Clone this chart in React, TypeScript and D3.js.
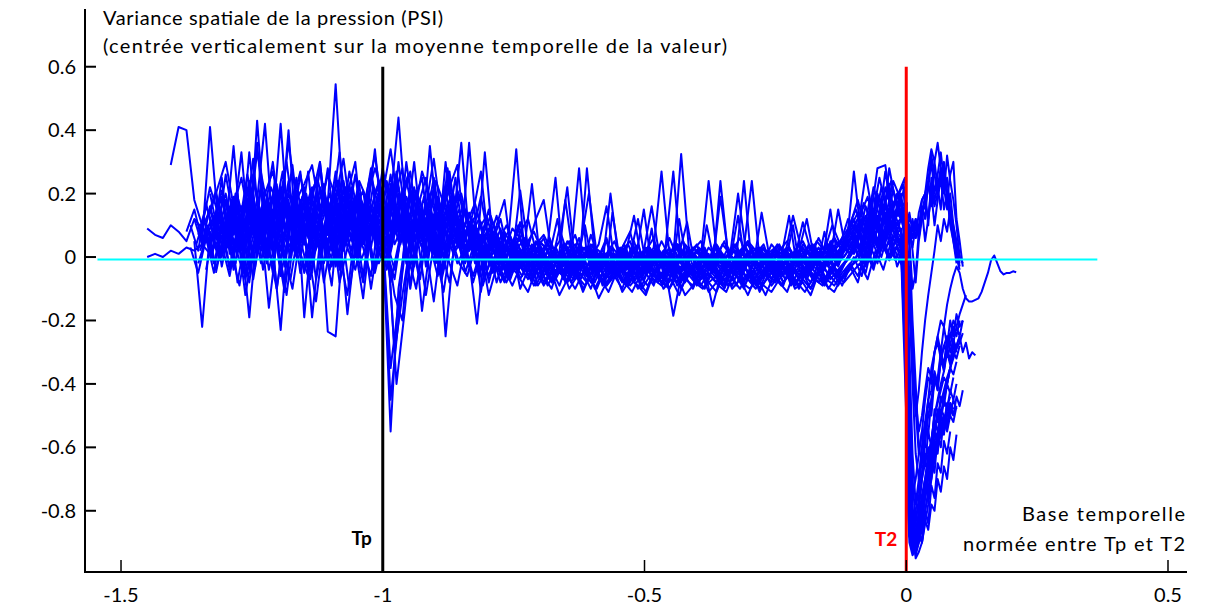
import React from "react";
import * as d3 from "d3";

// ---- axes / annotations ----
const X_TICKS = [-1.5, -1, -0.5, 0, 0.5];
const Y_TICKS = [-0.8, -0.6, -0.4, -0.2, 0, 0.2, 0.4, 0.6];
const TITLE_LINES = [
  "Variance spatiale de la pression (PSI)",
  "(centrée verticalement sur la moyenne temporelle de la valeur)",
];
const XLABEL_LINES = ["Base temporelle", "normée entre Tp et T2"];
const TP = -1;
const T2 = 0;
const MEAN_LINE_X = [-1.545, 0.365];
const MEAN_LINE_Y = -0.008;

// ---- sampling grids of the normalised time base ----
const PRE_START_A = -1.45;
const PRE_START_B = -1.4425;
const PRE_START_C = -1.44625;
const PRE_START_D = -1.43875;
const PRE_STEP = 0.015;
const POST_STEP = 0.006; // samples after T2 start at 0

const _ = null;

// ================= group A =================
const s1Pre = [
  .09,.07,.06,.10,.08,.05,.12,.09,.15,.06,
  .18,.04,.13,.22,.08,.16,.02,.20,.10,.25,
  .05,.17,.12,.28,.06,.19,.09,.23,.03,.14,
  .21,.08,.16,-.02,.12,.05,.18,.01,.09,.15,
  .03,.11,-.01,.07,.02,.09,-.03,.05,-.01,.04,
  -.04,.02,-.05,.01,-.03,.03,-.06,.00,-.04,.02,
  -.05,.01,-.07,.00,-.04,.02,-.06,-.01,-.05,.01,
  -.07,-.02,-.05,.01,-.06,.00,-.08,-.02,-.05,.01,
  -.06,-.02,-.07,.00,-.05,.02,-.04,.03,-.02,.05,
  .02,.10,.04,.12,.06,.15,.08,
];
const s1Post = [-.2,-.6,-.82,-.9,-.85,-.78,-.7,-.62,-.58,-.52,-.55,-.48,-.5,-.53,-.47];

const s2Pre = [
  .00,.01,.00,.02,.01,.03,.02,.04,.01,.05,
  .08,.02,.12,-.04,.10,.06,-.02,.14,.03,.09,
  -.05,.11,.02,.16,-.03,.08,.12,.01,.18,.05,
  .10,-.08,.04,.13,.00,.09,.06,-.02,.11,.04,
  .07,-.03,.05,.00,.03,-.05,.02,-.04,.01,-.06,
  .00,-.05,.02,-.07,-.01,-.04,.01,-.08,-.02,-.05,
  .00,-.06,-.02,-.09,-.03,-.05,.01,-.07,-.03,-.06,
  .00,-.08,-.04,-.06,-.01,-.09,-.03,-.07,-.02,-.05,
  -.08,-.03,-.06,-.01,-.07,-.02,-.05,.00,-.06,-.01,
  .03,-.02,.07,.01,.10,.04,.06,
];
const s2Post = [-.3,-.75,-.88,-.93,-.9,-.84,-.76,-.68,-.6,-.55,-.5,-.46,-.42,-.38,-.35,-.37,-.33];

const s3Pre = [
  _,_,_,.29,.41,.40,.18,.10,.22,.14,
  .06,.19,.11,.24,.07,.15,.30,.09,.20,.12,
  .16,.04,.22,.10,.27,.08,.18,.13,.05,.17,
  .11,.26,.07,.19,.12,.03,.15,.09,.21,.06,
  .13,.02,.08,-.02,.05,.00,.03,-.04,.02,-.03,
  .01,-.05,.03,-.02,.00,-.06,.02,-.03,.01,-.05,
  -.02,.02,-.04,.01,-.03,.04,-.05,.00,-.02,.03,
  -.04,.00,-.03,.02,-.05,.01,-.02,.03,-.04,.00,
  -.03,.02,-.05,.01,-.02,.04,-.03,.02,.00,.06,
  .03,.12,.07,.18,.10,.21,.14,
];
const s3Post = [.02,-.15,-.3,-.45,-.55,-.5,-.42,-.35,-.38,-.3,-.27,-.32,-.28,-.25,-.3,-.26,-.29,-.27,-.24];

const s4Pre = [
  _,_,_,_,_,.08,.15,.05,.41,.12,
  .20,.07,.16,.03,.43,.11,.19,.08,.24,.05,
  .14,.22,.09,.17,.545,.13,.06,.20,.10,.15,
  .04,.18,.44,.12,.08,.16,.02,.14,.07,.11,
  .36,.06,.09,.01,.07,-.02,.05,.00,.03,-.04,
  .02,-.03,.00,-.05,.03,-.02,.01,-.06,.00,-.03,
  .02,-.04,-.01,-.07,.01,-.03,.00,-.05,.02,-.02,
  -.05,.00,-.03,.01,-.06,-.01,-.04,.02,-.03,-.01,
  -.05,.00,-.04,.02,-.03,.01,-.05,.03,-.01,.04,
  .08,.02,.13,.05,.16,.09,.19,
];
const s4Post = [.08,.12,.1,.06,.14,.18,.2,.28,.34,.3,.36,.28,.22,.25,.15,.08,.02,-.02];

const s5Pre = [
  _,_,_,_,_,_,.05,-.22,.08,.02,
  .11,-.04,.06,-.19,.09,.01,.14,-.06,.07,.00,
  .10,-.19,.05,.12,-.02,.08,.15,.03,.11,-.05,
  .06,-.55,-.10,.07,-.02,.10,.04,-.06,.08,.01,
  .05,-.03,.04,-.06,.00,-.08,-.02,-.05,.01,-.07,
  -.03,-.09,-.04,-.06,-.01,-.08,-.03,-.10,-.05,-.07,
  -.02,-.08,-.04,-.10,-.06,-.03,-.09,-.05,-.08,-.02,
  -.07,-.10,-.04,-.08,-.06,-.02,-.09,-.05,-.11,-.06,
  -.03,-.08,-.05,-.10,-.04,-.07,-.09,-.03,-.08,-.05,
  .00,-.06,.04,-.02,.08,.02,.05,
];
const s5Post = [-.35,-.8,-.91,-.86,-.82,-.75,-.7,-.64,-.58,-.55,-.48,-.5,-.53,-.46,-.5];

const s6Pre = [
  _,_,_,_,_,_,_,.10,.03,.18,
  .09,.35,.06,.13,.02,.21,.11,.42,.08,.15,
  .04,.19,.30,.07,.16,.10,.22,.05,.13,.34,
  .09,.15,.05,.30,.12,.06,.35,.10,.17,.04,
  .12,.08,.02,.33,.05,.01,.06,.34,.02,.23,
  .00,.04,.25,-.02,.03,-.04,.28,.01,-.02,.20,
  .00,-.03,.02,-.05,.01,-.02,.03,.27,-.01,.02,
  -.03,.01,-.04,.24,.00,-.02,.03,.24,-.01,.02,
  -.02,.01,-.03,.02,.12,-.01,.03,.00,.15,.02,
  .27,.05,.10,.28,.29,.12,.20,
];
const s6Post = [.05,.1,.06,.12,.08,.14,.18,.12,.22,.16,.2,.25,.3,.18,.26,.3,.12,.05,-.03];

const s7Pre = [
  _,_,_,_,_,_,.12,.04,.16,.07,
  .02,.13,.05,-.08,.10,.17,.03,-.23,.09,.14,
  .06,-.05,.12,-.235,-.25,.08,.15,.02,.10,-.04,
  .07,-.35,-.15,.05,.09,-.17,.03,.11,-.25,.02,
  .06,-.01,-.21,.03,-.04,.01,-.06,.02,-.03,-.08,
  -.02,-.05,.00,-.07,-.03,-.01,-.06,-.04,-.08,-.02,
  -.05,-.09,-.03,-.06,-.01,-.07,-.04,-.185,-.06,-.03,
  -.08,-.04,-.155,-.06,-.09,-.03,-.07,-.05,-.10,-.04,
  -.06,-.09,-.02,-.07,-.04,-.08,-.03,-.06,-.09,-.04,
  -.02,.05,-.01,.09,.03,.06,.01,
];
const s7Post = [-.25,-.7,-.85,-.92,-.88,-.8,-.72,-.66,-.62,-.55,-.58,-.5,-.44,-.4,-.35,-.3,-.28,-.25,-.3,-.27,-.32,-.3,-.31];

const s8Pre = [
  _,_,_,_,_,_,_,_,.20,.08,
  .26,.12,.33,.06,.18,.42,.09,.22,.14,.04,
  .19,.11,.28,.07,.16,.24,.10,.05,.20,.12,
  .28,.14,.22,.08,.18,.25,.06,.16,.12,.20,
  .07,.14,.03,.10,.05,.12,.01,.06,.04,-.01,
  .05,.02,-.02,.04,.00,.06,-.03,.03,.01,-.04,
  .03,-.01,.05,-.03,.02,.00,-.04,.03,-.02,.01,
  .04,-.03,.01,-.02,.03,-.04,.00,.02,-.03,.01,
  .03,-.02,.00,.04,-.01,.02,-.03,.05,.01,.07,
  .12,.04,.18,.09,.22,.13,.17,
];
const s8Post = [.08,-.1,-.35,-.5,-.42,-.3,-.2,-.12,-.05,.02,.1,.05,.12,.08,.15,.1,.05,.0];

const s9Pre = [
  _,_,_,_,_,_,_,_,_,.05,
  .14,.00,.10,.20,.03,.12,-.05,.16,.06,.21,
  -.19,.09,.14,.03,.19,.07,.12,.00,.17,.08,
  .13,.02,.20,.07,-.03,.14,.06,.19,.01,.09,
  .03,.11,.00,.06,-.05,.02,-.07,-.01,-.04,.00,
  -.07,-.02,-.05,.01,-.08,-.03,-.06,-.01,-.09,-.04,
  -.06,.00,-.08,-.03,-.05,.01,-.07,-.02,-.10,-.05,
  -.03,-.07,-.01,-.06,-.09,-.04,-.02,-.08,-.05,-.03,
  -.07,-.02,-.09,-.04,-.06,-.01,-.08,-.04,-.02,.01,
  .06,.00,.11,.04,.14,.08,.03,
];
const s9Post = [-.4,-.85,-.93,-.88,-.8,-.7,-.58,-.5,-.45,-.4,-.38,-.3,-.35,-.28,-.25,-.2,-.22,-.18,-.15,-.12];

const s10Pre = [
  _,_,_,_,_,_,_,.03,.11,.01,
  .07,.15,.04,.33,.09,.02,.13,.06,.18,.01,
  .11,.05,.30,.08,.15,.02,.10,.17,.04,.12,
  .06,-.45,-.20,.13,.01,.09,.05,.12,.00,.07,
  .10,.02,.05,-.04,.08,.00,-.02,.04,-.05,.01,
  -.03,.02,-.06,.00,-.02,.03,-.05,.01,-.03,-.07,
  .00,-.04,.02,-.06,-.02,.01,-.05,-.03,.00,-.06,
  -.02,.02,-.05,-.01,-.07,.00,-.03,-.06,.01,-.04,
  -.02,-.06,.01,-.03,-.05,.00,-.04,.02,-.03,.04,
  .01,.09,.05,.13,.02,.10,.06,
];
const s10Post = [
  -.15,-.5,-.75,-.7,-.62,-.55,-.45,-.38,-.4,-.3,-.25,-.2,-.22,-.15,-.1,-.06,-.03,-.05,
  -.1,-.13,-.14,-.14,-.135,-.13,-.11,-.08,-.05,-.01,.005,-.02,-.045,-.055,-.05,-.05,-.045,-.048,
];

const s11Pre = [
  _,_,_,_,_,_,_,_,_,_,
  .09,.17,.02,.12,.36,.07,.15,.10,.40,.05,
  .13,.19,.06,.11,.17,.03,.14,.08,.21,.32,
  .15,.05,.30,.10,.30,.07,.13,.02,.30,.09,
  .04,.36,.06,.01,.08,.03,-.02,.05,.00,.03,
  -.01,.04,.00,-.03,.02,.28,.00,.03,-.02,.01,
  -.04,.02,.13,-.02,.03,-.01,.02,.00,.325,.02,
  -.01,.03,-.03,.19,.01,.04,-.02,.00,.03,-.01,
  .02,-.02,.01,.00,-.03,.02,.01,.04,.00,.06,
  .10,.05,.14,.08,.27,.11,.15,
];
const s11Post = [.12,.05,-.1,-.05,.08,.15,.05,.12,.2,.1,.18,.25,.15,.2,.1,.05,.0,-.04];

const s12Pre = [
  _,_,_,_,_,_,_,_,_,_,
  _,.12,.03,.19,.08,.14,.01,.22,.11,.06,
  .17,-.02,.11,.05,.14,.09,.02,.16,.07,.12,
  .04,.23,.10,.16,.05,.12,.08,.02,.15,.06,
  .02,.09,.04,-.01,.06,.02,-.03,.03,-.02,.01,
  -.04,.00,-.02,.02,-.05,-.01,.01,-.04,.00,-.02,
  .01,-.03,.00,-.05,-.02,.01,-.03,.00,-.04,-.01,
  .02,-.02,.00,-.04,.01,-.01,.24,-.03,.00,-.02,
  .01,-.03,.00,.02,-.02,.03,-.01,.15,-.02,.03,
  .07,.01,.10,.03,.13,.06,.09,
];
const s12Post = [-.1,-.55,-.85,-.95,-.93,-.9,-.84,-.78,-.7,-.62,-.56,-.5,-.45,-.4,-.35,-.32,-.28,-.25];

const s13Pre = [
  _,_,_,_,_,_,_,_,_,_,
  _,_,.07,.15,.04,.10,.19,.02,.13,.08,
  .22,.06,.11,.18,.03,.13,.09,.20,.05,.10,
  .17,.03,.12,.06,.22,.09,.14,.04,.11,.18,
  .05,.08,.00,.04,-.03,.01,-.05,.00,-.02,-.06,
  .01,-.03,-.07,-.02,.00,-.05,-.08,-.03,.00,-.06,
  -.04,-.09,-.02,-.06,-.03,-.08,-.05,-.01,-.07,-.04,
  -.09,-.05,-.02,-.08,-.04,-.06,-.10,-.03,-.07,-.05,
  -.02,-.08,-.05,-.09,-.03,-.06,-.02,-.07,-.04,-.01,
  .04,-.02,.08,.03,.05,.11,.02,
];
const s13Post = [-.5,-.88,-.9,-.82,-.78,-.7,-.65,-.6,-.65,-.55,-.5,-.52,-.45,-.48,-.42,-.45,-.4];

const s14Pre = [
  _,_,_,_,_,_,_,_,.14,.22,
  .30,.16,.25,.12,.33,.20,.27,.14,.36,.18,
  .23,.29,.15,.26,.19,.31,.12,.24,.18,.28,
  .20,.34,.16,.24,.13,.27,.19,.11,.23,.16,
  .20,.09,.14,.06,.11,.04,.08,.02,.06,.00,
  .04,-.01,.03,-.02,.01,.03,-.03,.00,.02,-.01,
  .01,-.02,.03,.00,-.03,.02,-.01,.01,-.02,.00,
  .02,-.01,.00,-.03,.01,.02,-.02,.00,.01,-.03,
  .00,.02,-.01,.01,-.02,.03,.00,-.01,.02,.05,
  .09,.15,.06,.20,.12,.24,.18,
];
const s14Post = [.15,.05,-.2,-.4,-.6,-.65,-.55,-.45,-.35,-.3,-.25,-.3,-.22,-.28,-.2,-.25,-.18,-.22,-.2];

// ================= group B =================
const s15Pre = [
  _,_,_,_,_,_,-.02,.06,-.05,.10,
  -.03,.08,-.07,.04,.12,-.04,.07,-.09,.05,.01,
  -.06,.09,-.02,.11,-.08,.03,-.04,.08,-.10,.06,
  .02,-.07,.10,-.03,.05,-.12,.04,-.05,.07,-.02,
  .03,-.08,.01,-.06,.02,-.04,-.09,-.03,-.07,-.01,
  -.08,-.04,-.09,-.02,-.07,-.05,-.10,-.03,-.08,-.06,
  -.04,-.09,-.06,-.02,-.08,-.05,-.10,-.04,-.07,-.09,
  -.03,-.08,-.06,-.10,-.04,-.07,-.02,-.09,-.05,-.08,
  -.06,-.03,-.09,-.05,-.08,-.02,-.07,-.04,-.09,-.03,
  -.01,.05,-.03,.08,.00,.11,.04,
];
const s15Post = [-.45,-.82,-.9,-.87,-.83,-.78,-.72,-.68,-.62,-.58,-.55,-.5,-.52,-.47,-.44];

const s16Pre = [
  _,_,_,_,_,.10,.02,.17,.06,.25,
  .01,.19,.10,.31,.04,.16,.23,-.02,.18,.09,
  .27,.03,.21,.12,-.04,.20,.30,.06,.15,.24,
  .08,.19,.28,.02,.16,.25,.07,.13,.22,.29,
  .05,.14,.27,.03,.10,.18,-.01,.08,.12,.02,
  .06,-.02,.09,.01,.04,-.03,.07,.00,.05,-.04,
  .03,.08,-.02,.02,.06,-.03,.01,.04,-.05,.02,
  .05,-.01,.03,-.04,.02,.06,-.02,.01,.04,-.03,
  .02,.05,-.02,.03,.00,.06,.01,-.03,.04,.09,
  .14,.06,.19,.11,.23,.08,.16,
];
const s16Post = [.1,.04,.12,.06,.1,.16,.12,.24,.16,.3,.22,.28,.2,.32,.24,.18,.1,.0];

const s17Pre = [
  _,_,_,_,_,_,_,.05,.13,-.03,
  .09,.20,-.06,.11,.02,.17,-.10,.08,.14,.00,
  .12,-.07,.06,.19,-.02,.10,.03,-.13,.09,.16,
  -.04,.07,.13,-.09,.11,.01,.08,-.06,.14,.05,
  -.02,.09,-.11,.04,.00,-.07,.03,-.10,-.04,.01,
  -.06,-.10,-.02,-.08,-.04,-.11,-.05,-.01,-.09,-.06,
  -.10,-.03,-.07,-.11,-.05,-.08,-.02,-.09,-.06,-.10,
  -.04,-.08,-.11,-.05,-.09,-.03,-.07,-.10,-.06,-.02,
  -.08,-.11,-.04,-.07,-.10,-.05,-.08,-.03,-.07,-.04,
  .01,-.05,.06,.00,.09,-.03,.03,
];
const s17Post = [-.6,-.88,-.92,-.9,-.85,-.82,-.76,-.7,-.66,-.6,-.56,-.52,-.55,-.5,-.46,-.48];

const s18Pre = [
  _,_,_,_,_,_,.07,.16,.09,.21,
  .12,.05,.18,.26,.10,.03,.20,.13,.29,.08,
  .17,.24,.06,.14,.33,.11,.19,.04,.26,.15,
  .22,.10,.18,.27,.09,.16,.31,.12,.05,.21,
  .14,.08,.19,.05,.13,.02,.09,.06,-.01,.04,
  .07,.02,-.01,.05,.01,-.02,.04,.00,.06,-.03,
  .02,.05,-.02,.03,-.01,.05,.00,-.03,.04,.01,
  -.02,.03,.00,.05,-.03,.02,.04,-.01,.03,.00,
  .04,-.02,.02,.05,.00,.03,-.01,.06,.02,.08,
  .05,.16,.09,.22,.13,.19,.25,
];
const s18Post = [.12,.1,.02,-.08,.05,.12,.2,.1,.25,.18,.22,.15,.28,.2,.12,.05,-.02];

const s19Pre = [
  _,_,_,_,_,_,_,_,_,.04,
  -.06,.08,-.12,.03,.10,-.16,.05,.00,-.10,.07,
  .02,-.14,.06,-.03,.09,-.18,.04,-.08,.11,-.02,
  .05,-.12,-.20,.08,-.05,.03,-.14,.06,-.02,-.09,
  .04,-.06,.02,-.12,-.03,-.08,.00,-.07,-.11,-.04,
  -.09,-.05,-.12,-.07,-.03,-.10,-.06,-.13,-.08,-.04,
  -.11,-.07,-.09,-.12,-.05,-.08,-.10,-.06,-.12,-.09,
  -.05,-.11,-.08,-.04,-.10,-.07,-.12,-.06,-.09,-.11,
  -.07,-.04,-.10,-.08,-.12,-.05,-.09,-.11,-.06,-.03,
  -.08,.02,-.04,.06,-.01,.03,-.06,
];
const s19Post = [-.5,-.78,-.86,-.8,-.72,-.68,-.62,-.64,-.58,-.5,-.46,-.42,-.38,-.4,-.35,-.3,-.32,-.28];

const s20Pre = [
  _,_,_,_,_,_,_,_,.11,.19,
  .04,.15,.08,.24,.13,.00,.21,.09,.17,.27,
  .06,.14,.23,.02,.18,.11,.26,.08,.16,.04,
  .24,.13,.07,.20,.15,.03,.22,.10,.18,.12,
  .02,.10,.06,.15,.01,.08,.03,.11,-.02,.05,
  .00,.04,-.03,.02,.07,-.01,.03,-.04,.01,.05,
  -.02,.01,.04,-.03,.02,-.01,.06,.00,-.03,.03,
  .01,-.02,.04,.00,-.03,.02,.05,-.01,.01,-.02,
  .03,.00,-.02,.04,.01,-.01,.03,.06,.02,.10,
  .18,.08,.22,.14,.11,.20,.12,
];
const s20Post = [-.05,-.4,-.7,-.84,-.88,-.8,-.74,-.66,-.58,-.5,-.45,-.4,-.36,-.3,-.34,-.28,-.3];

const s21Pre = [
  _,_,_,_,_,_,_,_,_,_,
  .16,.06,.12,.01,.22,.09,.14,-.03,.19,.07,
  .11,.25,.03,.15,.08,.20,.00,.13,.28,.06,
  .17,.04,.10,.21,.06,.15,.01,.12,.27,.08,
  .15,.03,.11,-.02,.07,.01,.05,-.03,.02,-.05,
  .01,-.04,.00,.03,-.06,-.01,.02,-.05,-.02,.01,
  -.05,.00,-.03,.02,-.06,-.01,.03,-.04,-.02,.00,
  -.04,.01,-.06,-.02,.00,-.05,.02,-.03,-.06,.00,
  -.03,.02,-.05,-.01,.03,-.04,.00,.02,.05,.01,
  .07,.13,.04,.17,.09,.14,.10,
];
const s21Post = [.05,-.3,-.62,-.78,-.7,-.6,-.52,-.45,-.42,-.36,-.4,-.33,-.28,-.3,-.24,-.27,-.22,-.25,-.2];

const s22Pre = [
  _,_,_,_,_,_,_,-.04,.09,.00,
  .13,-.08,.06,.10,-.02,.15,.04,-.11,.08,.18,
  -.01,.12,.05,-.09,.16,.03,.10,-.06,.13,.01,
  .09,-.30,-.12,.04,.15,-.03,.10,.02,-.08,.11,
  .01,.06,-.04,.03,-.08,.00,-.05,.02,-.06,-.03,
  -.01,-.07,-.03,.00,-.06,-.02,-.08,-.04,.00,-.06,
  -.03,-.08,-.01,-.05,-.09,-.02,-.06,-.04,-.08,-.03,
  -.07,-.02,-.05,-.09,-.03,-.06,-.01,-.08,-.04,-.07,
  -.02,-.06,-.09,-.03,-.05,-.08,-.02,-.06,-.03,.00,
  .04,-.03,.08,.02,.12,.05,.00,
];
const s22Post = [-.3,-.72,-.9,-.94,-.9,-.86,-.8,-.75,-.68,-.62,-.58,-.55,-.5,-.53,-.48,-.5];

const s23Pre = [
  _,_,_,_,_,_,_,_,_,_,
  _,_,.15,.07,.23,.12,.04,.18,.09,.26,
  .13,.05,.19,.10,.24,.07,.15,.21,.03,.17,
  .09,.22,.14,.05,.19,.11,.25,.08,.16,.13,
  .07,.12,.04,.09,.02,.06,.00,.21,.03,.12,
  .18,.01,.05,.22,-.02,.03,.00,.04,.16,-.01,
  .02,.00,.12,-.02,.03,.27,.01,.04,-.01,.03,
  .00,.24,.02,-.01,.03,.00,.05,.02,-.02,.04,
  .01,.03,.00,.11,.02,-.01,.04,.02,.06,.03,
  .09,.26,.12,.06,.28,.15,.22,
];
const s23Post = [.14,.08,.03,.1,.06,.14,.16,.22,.3,.2,.26,.33,.24,.2,.12,.08,.02,-.03];

const s24Pre = [
  _,_,_,_,_,.03,-.05,.06,-.02,.09,
  -.04,.05,.11,-.07,.08,.02,-.10,.07,.13,-.05,
  .04,.10,-.08,.06,.01,-.12,.09,.03,-.06,.12,
  .05,-.04,.08,-.10,.06,.00,.12,-.07,.04,.09,
  -.05,.03,.07,-.08,.02,-.04,.01,-.07,-.02,-.09,
  -.04,-.08,-.02,-.06,-.10,-.05,-.01,-.07,-.09,-.04,
  -.08,-.05,-.10,-.03,-.07,-.09,-.04,-.08,-.02,-.06,
  -.09,-.05,-.08,-.03,-.07,-.10,-.05,-.08,-.04,-.09,
  -.06,-.03,-.08,-.05,-.10,-.04,-.07,-.09,-.05,-.02,
  -.06,.01,-.03,.05,-.01,.07,.02,
];
const s24Post = [-.55,-.86,-.93,-.91,-.88,-.84,-.8,-.74,-.7,-.64,-.6,-.56,-.52,-.55,-.5,-.52,-.47];

// ================= group C =================
const s25Pre = [
  _,_,_,_,_,_,.04,.12,.00,.15,
  .07,-.02,.17,.10,.03,.19,.06,.13,-.01,.16,
  .09,.02,.14,.20,.05,.11,-.03,.17,.08,.13,
  .01,.18,.10,.06,.21,.03,.12,.17,.05,.09,
  -.02,.07,.12,.01,.05,-.04,.03,.09,-.02,.04,
  -.05,.01,.12,-.03,-.07,.00,.03,-.04,-.08,.14,
  -.02,-.06,.01,-.04,.09,-.07,-.01,-.05,.02,-.03,
  -.06,.10,-.02,-.07,-.01,.13,-.04,-.08,-.02,.01,
  -.05,-.02,.10,-.06,-.01,-.04,.08,-.03,.00,.04,
  .10,.03,.15,.07,.20,.10,.13,
];
const s25Post = [-.2,-.65,-.88,-.84,-.76,-.62,-.66,-.55,-.6,-.48,-.52,-.44,-.47,-.4,-.43,-.38];

const s26Pre = [
  _,_,_,_,_,_,_,.09,.02,.14,
  .05,.20,.01,.11,.16,.04,.24,.08,.01,.13,
  .18,.06,.10,.02,.15,.22,.07,.12,.03,.19,
  .10,.24,.04,.14,.08,.19,.02,.16,.09,.25,
  .06,.11,.02,.08,.04,.00,.06,-.01,.05,.02,
  -.02,.03,-.04,.18,.00,-.03,.02,-.05,.01,-.02,
  .03,-.04,.00,.15,-.03,.02,-.02,.05,-.04,.00,
  .02,-.03,.04,.00,-.04,.01,.03,-.02,.14,.00,
  -.03,.02,.00,-.02,.04,.01,-.01,.03,.05,.09,
  .15,.07,.12,.19,.09,.17,.23,
];
const s26Post = [.1,-.05,-.25,-.48,-.62,-.55,-.6,-.45,-.5,-.38,-.42,-.32,-.36,-.28,-.33,-.26,-.3];

const s27Pre = [
  _,_,_,_,_,_,_,_,.06,-.01,
  .12,.03,-.05,.09,.15,-.02,.11,.04,-.07,.08,
  .14,.01,.07,-.04,.12,.05,.16,-.01,.06,.10,
  -.03,.08,.13,.00,-.10,.06,.11,-.05,.04,.12,
  .00,.05,-.06,.02,-.03,.04,-.07,.00,-.04,-.09,
  -.03,-.06,.00,-.08,-.05,-.02,-.07,-.10,-.04,-.01,
  -.06,-.09,-.03,-.07,.00,-.05,-.08,-.02,-.06,-.04,
  -.08,-.03,-.06,-.09,-.05,-.01,-.07,-.04,-.09,-.06,
  -.02,-.07,-.04,-.08,-.01,-.06,-.09,-.03,-.05,.00,
  .05,-.02,.10,.04,.07,-.01,.04,
];
const s27Post = [-.4,-.78,-.9,-.93,-.86,-.9,-.8,-.84,-.72,-.76,-.65,-.68,-.58,-.62,-.55];

const s28Pre = [
  _,_,_,_,_,_,_,_,_,.10,
  .03,.16,.08,.21,.11,.00,.14,.27,.05,.12,
  .20,.08,.03,.15,.24,.10,.04,.18,.12,.22,
  .14,.06,.19,.26,.08,.13,.21,.05,.28,.10,
  .16,.05,.09,.13,.03,.07,.01,.10,.04,.08,
  .02,.06,-.01,.04,.00,.05,.20,.01,-.02,.03,
  .00,.04,-.02,.02,.16,.00,-.03,.02,.05,-.01,
  .03,.00,-.02,.04,.01,.20,.02,-.01,.03,.00,
  .04,.01,.13,.03,-.01,.05,.02,.10,.04,.12,
  .08,.17,.11,.25,.14,.18,.10,
];
const s28Post = [.1,.14,.08,.12,.06,.18,.2,.24,.32,.26,.2,.28,.22,.15,.2,.1,.04,.0,-.02];

// ================= group D =================
const s29Pre = [
  _,_,_,_,_,_,.02,.10,-.04,.07,
  .14,.03,.09,-.03,.18,.06,.12,.01,.20,.04,
  .10,.17,-.01,.13,.06,.23,.02,.11,.07,.15,
  .05,.13,.20,.04,.10,.16,-.02,.08,.14,.03,
  .09,-.02,.06,.00,.04,-.05,.02,-.03,.01,-.06,
  .00,-.04,.02,-.06,-.01,.10,-.03,.01,-.05,-.02,
  .02,-.05,-.01,.03,-.04,.00,-.06,.12,-.02,.01,
  -.04,.00,-.06,-.02,.02,-.05,.00,-.03,.01,-.05,
  .00,.13,-.03,.01,-.04,.02,-.02,.00,.03,.06,
  .02,.08,.14,.05,.11,.16,.09,
];
const s29Post = [-.1,-.45,-.78,-.9,-.85,-.78,-.7,-.74,-.64,-.58,-.62,-.52,-.56,-.47,-.5,-.45,-.48];

const s30Pre = [
  _,_,_,_,_,_,_,.13,.21,.08,
  .18,.10,.26,.14,.07,.22,.16,.30,.11,.19,
  .08,.24,.13,.20,.10,.27,.15,.06,.22,.18,
  .12,.27,.09,.21,.15,.10,.24,.17,.08,.19,
  .11,.17,.07,.13,.05,.10,.03,.07,.01,.05,
  .03,-.01,.02,.05,-.02,.01,.04,-.03,.02,.00,
  .04,-.02,.01,.03,-.01,.02,.00,.04,-.02,.01,
  .03,-.01,.02,.00,.04,-.02,.01,.03,-.01,.02,
  .00,.03,-.01,.02,.04,.00,.02,-.02,.06,.09,
  .13,.19,.09,.16,.24,.13,.17,
];
const s30Post = [.05,-.15,-.4,-.62,-.7,-.6,-.52,-.56,-.45,-.38,-.42,-.3,-.34,-.25,-.28,-.22,-.25,-.2];

const s31Pre = [
  _,_,_,_,_,_,_,_,-.05,.07,
  .01,-.09,.06,.13,-.04,.10,.02,-.12,.08,.03,
  -.07,.11,.04,-.02,.09,-.10,.05,.13,-.04,.07,
  .00,-.40,-.18,.06,-.07,.10,.01,-.11,.06,-.02,
  -.06,.03,-.09,.00,-.04,-.08,-.02,-.06,.00,-.09,
  -.05,-.08,-.03,-.10,-.06,-.09,-.04,-.07,-.11,-.05,
  -.08,-.11,-.06,-.09,-.04,-.10,-.07,-.12,-.05,-.08,
  -.10,-.06,-.09,-.11,-.05,-.08,-.10,-.07,-.12,-.06,
  -.09,-.05,-.08,-.11,-.07,-.04,-.10,-.06,-.08,-.05,
  -.02,-.07,.02,-.04,.05,-.01,-.05,
];
const s31Post = [-.65,-.9,-.94,-.92,-.88,-.9,-.83,-.86,-.78,-.8,-.7,-.74,-.66,-.7,-.6,-.64,-.56];

const s32Pre = [
  _,_,_,_,_,_,_,_,_,_,
  .06,.14,-.01,.09,.17,.04,.12,.20,.02,.10,
  .15,.04,.09,.19,.01,.12,.08,.17,.11,.00,
  .08,.16,.03,.11,.18,.06,.13,.00,.10,.15,
  .04,.09,.00,.05,-.02,.03,-.04,.01,-.03,.02,
  .00,-.03,.02,-.05,.00,.03,-.04,.01,-.02,-.05,
  .01,-.03,.00,-.05,.02,-.02,-.04,.01,.11,-.03,
  .00,-.04,.02,-.01,-.05,.01,-.02,.00,-.04,.02,
  -.01,-.03,.01,-.05,.00,.02,-.03,.01,.00,.04,
  .08,.03,.12,.06,.16,.04,.10,
];
const s32Post = [-.25,-.68,-.82,-.9,-.8,-.84,-.72,-.76,-.64,-.68,-.56,-.6,-.5,-.54,-.46,-.5,-.44,-.47,-.42];

const GROUPS = [
  { start: PRE_START_A, pre: [s1Pre, s2Pre, s3Pre, s4Pre, s5Pre, s6Pre, s7Pre, s8Pre, s9Pre, s10Pre, s11Pre, s12Pre, s13Pre, s14Pre],
    post: [s1Post, s2Post, s3Post, s4Post, s5Post, s6Post, s7Post, s8Post, s9Post, s10Post, s11Post, s12Post, s13Post, s14Post] },
  { start: PRE_START_B, pre: [s15Pre, s16Pre, s17Pre, s18Pre, s19Pre, s20Pre, s21Pre, s22Pre, s23Pre, s24Pre],
    post: [s15Post, s16Post, s17Post, s18Post, s19Post, s20Post, s21Post, s22Post, s23Post, s24Post] },
  { start: PRE_START_C, pre: [s25Pre, s26Pre, s27Pre, s28Pre], post: [s25Post, s26Post, s27Post, s28Post] },
  { start: PRE_START_D, pre: [s29Pre, s30Pre, s31Pre, s32Pre], post: [s29Post, s30Post, s31Post, s32Post] },
];

// ---- layout ----
const W = 1224;
const H = 612;
const LEFT = 85;
const RIGHT = 1187;
const TOP = 9;
const BOTTOM = 572;
const FONT = "Lato, 'Open Sans', 'Liberation Sans', sans-serif";

type Pt = [number, number | null];

export default function App() {
  const x = d3.scaleLinear().domain([-1.5688, 0.5363]).range([LEFT, RIGHT]);
  const y = d3.scaleLinear().domain([-0.993, 0.782]).range([BOTTOM, TOP]);

  const line = d3
    .line<Pt>()
    .defined((d) => d[1] !== null && d[1] !== undefined)
    .x((d) => x(d[0]))
    .y((d) => y(d[1] as number));

  const paths: string[] = [];
  GROUPS.forEach((g) => {
    g.pre.forEach((pre, k) => {
      const pts: Pt[] = pre.map((v, i) => [g.start + i * PRE_STEP, v]);
      g.post[k].forEach((v, j) => pts.push([j * POST_STEP, v]));
      paths.push(line(pts) || "");
    });
  });

  return (
    <svg
      width={W}
      height={H}
      style={{ position: "absolute", left: 0, top: 0, background: "#fff" }}
      fontFamily={FONT}
    >
      <rect x={0} y={0} width={W} height={H} fill="#fff" />
      <g fill="none" stroke="#0000ff" strokeWidth={2} strokeLinejoin="round">
        {paths.map((d, i) => (
          <path key={i} d={d} />
        ))}
      </g>
      <line
        x1={x(MEAN_LINE_X[0])}
        x2={x(MEAN_LINE_X[1])}
        y1={y(MEAN_LINE_Y)}
        y2={y(MEAN_LINE_Y)}
        stroke="#00ffff"
        strokeWidth={2}
      />
      <line x1={x(TP)} x2={x(TP)} y1={y(0.6)} y2={BOTTOM} stroke="#000" strokeWidth={3} />
      <line x1={x(T2)} x2={x(T2)} y1={y(0.6)} y2={BOTTOM} stroke="#ff0000" strokeWidth={3} />
      <text x={x(TP) - 11} y={545} textAnchor="end" fontWeight="bold" fontSize={19} fill="#000">
        Tp
      </text>
      <text x={x(T2) - 9} y={546} textAnchor="end" fontWeight="bold" fontSize={19} fill="#ff0000">
        T2
      </text>
      <line x1={LEFT} x2={LEFT} y1={TOP} y2={BOTTOM + 1} stroke="#000" strokeWidth={2} />
      <line x1={LEFT - 1} x2={RIGHT} y1={BOTTOM} y2={BOTTOM} stroke="#000" strokeWidth={2} />
      {Y_TICKS.map((t) => (
        <g key={"y" + t}>
          <line x1={LEFT} x2={LEFT + 11} y1={y(t)} y2={y(t)} stroke="#000" strokeWidth={2} />
          <text x={76} y={y(t)} dy="0.35em" textAnchor="end" fontSize={20} fill="#000">
            {t === 0 ? "0" : String(t)}
          </text>
        </g>
      ))}
      {X_TICKS.map((t) => (
        <g key={"x" + t}>
          <line x1={x(t)} x2={x(t)} y1={BOTTOM} y2={BOTTOM - 12} stroke="#000" strokeWidth={1.5} />
          <text x={x(t)} y={602} textAnchor="middle" fontSize={20} fill="#000">
            {String(t)}
          </text>
        </g>
      ))}
      <text x={103} y={25} fontSize={20} fill="#000" textLength={340} lengthAdjust="spacing">
        {TITLE_LINES[0]}
      </text>
      <text x={103} y={53} fontSize={20} fill="#000" textLength={624} lengthAdjust="spacing">
        {TITLE_LINES[1]}
      </text>
      <text x={1022} y={521} fontSize={20} fill="#000" textLength={163} lengthAdjust="spacing">
        {XLABEL_LINES[0]}
      </text>
      <text x={963} y={551} fontSize={20} fill="#000" textLength={222} lengthAdjust="spacing">
        {XLABEL_LINES[1]}
      </text>
    </svg>
  );
}
